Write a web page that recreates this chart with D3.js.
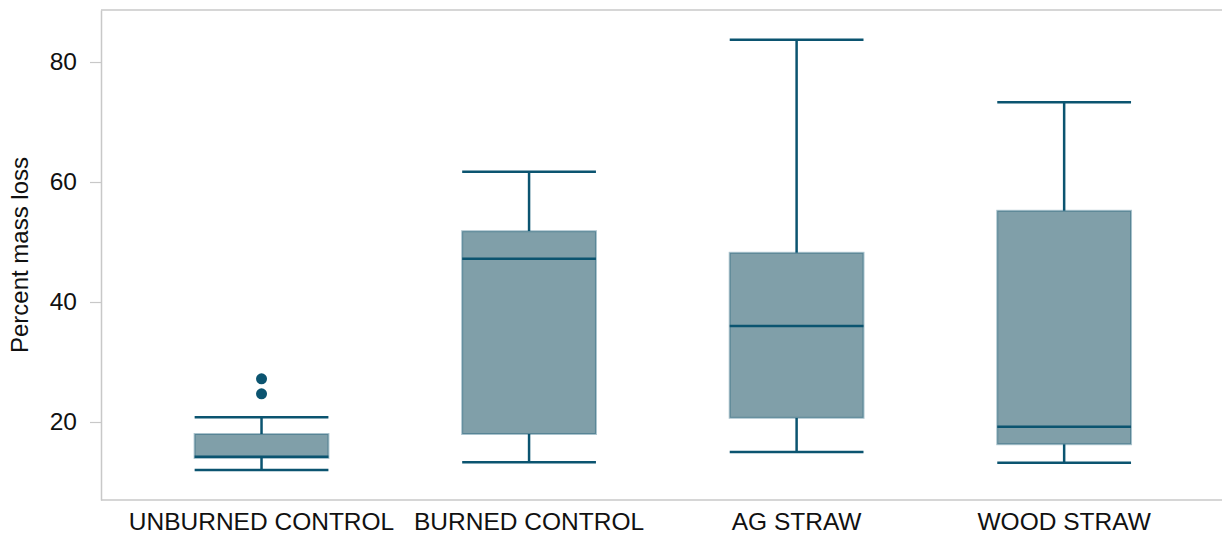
<html>
<head>
    <script src="https://cdn.jsdelivr.net/npm/d3@7"></script>
    <style>
        body { margin: 0; background: #fff; }
        text { font-family: "Liberation Sans", Arial, sans-serif; }
    </style>
</head>
<body>
    <svg id="chart" width="1222" height="535"></svg>
    <script>
        // box stats
        var categories = ["UNBURNED CONTROL", "BURNED CONTROL", "AG STRAW", "WOOD STRAW"];
        var lowWhisker = [12.0, 13.3, 15.0, 13.2];
        var q1 = [14.0, 18.0, 20.7, 16.3];
        var medians = [14.2, 47.2, 36.0, 19.2];
        var q3 = [18.0, 51.8, 48.2, 55.2];
        var highWhisker = [20.8, 61.7, 83.7, 73.3];
        var outliers = [[27.2, 24.7], [], [], []];
        var yTicks = [20, 40, 60, 80];

        var dark = "#0b5470";
        var fill = "#809fa9";

        var plotL = 101, plotR = 1222, plotT = 10, plotB = 500;
        var svg = d3.select("#chart");

        var x = d3.scaleLinear().domain([-0.6, 3.59]).range([plotL, plotR]);
        var y = d3.scaleLinear().domain([7, 88.67]).range([plotB, plotT]);
        var boxW = x(0.25) - x(0);

        // frame
        svg.append("line").attr("x1", plotL).attr("x2", plotR).attr("y1", plotT).attr("y2", plotT)
            .attr("stroke", "#c8c8c8").attr("stroke-width", 1.5);
        svg.append("line").attr("x1", plotL).attr("x2", plotR).attr("y1", plotB).attr("y2", plotB)
            .attr("stroke", "#c8c8c8").attr("stroke-width", 1.5);

        var yAxis = svg.append("g")
            .attr("transform", "translate(" + plotL + ",0)")
            .call(d3.axisLeft(y).tickValues(yTicks).tickSize(11).tickPadding(13).tickSizeOuter(0));
        yAxis.select(".domain").attr("stroke", "#c8c8c8").attr("stroke-width", 1.5);
        yAxis.selectAll(".tick line").attr("stroke", "#c8c8c8").attr("stroke-width", 1.2);
        yAxis.selectAll(".tick text").attr("font-size", 24.5).attr("fill", "#111")
            .attr("font-family", "'Liberation Sans', Arial, sans-serif");

        svg.append("text")
            .attr("transform", "translate(28," + ((plotT + plotB) / 2) + ") rotate(-90)")
            .attr("text-anchor", "middle")
            .attr("font-size", 24)
            .attr("fill", "#111")
            .text("Percent mass loss");

        svg.selectAll(".xlab").data(categories).enter().append("text")
            .attr("class", "xlab")
            .attr("x", (d, i) => x(i))
            .attr("y", 530)
            .attr("text-anchor", "middle")
            .attr("font-size", 24.5)
            .attr("fill", "#111")
            .text(d => d);

        var g = svg.selectAll(".box").data(categories).enter().append("g").attr("class", "box");

        // whisker stems
        g.append("line")
            .attr("x1", (d, i) => x(i)).attr("x2", (d, i) => x(i))
            .attr("y1", (d, i) => y(q3[i])).attr("y2", (d, i) => y(highWhisker[i]))
            .attr("stroke", dark).attr("stroke-width", 2.5);
        g.append("line")
            .attr("x1", (d, i) => x(i)).attr("x2", (d, i) => x(i))
            .attr("y1", (d, i) => y(q1[i])).attr("y2", (d, i) => y(lowWhisker[i]))
            .attr("stroke", dark).attr("stroke-width", 2.5);

        // box
        g.append("rect")
            .attr("x", (d, i) => x(i) - boxW)
            .attr("width", boxW * 2)
            .attr("y", (d, i) => y(q3[i]))
            .attr("height", (d, i) => y(q1[i]) - y(q3[i]))
            .attr("fill", fill)
            .attr("stroke", dark).attr("stroke-opacity", 0.35).attr("stroke-width", 2);

        // caps and median
        [lowWhisker, highWhisker, medians].forEach(function (arr) {
            g.append("line")
                .attr("x1", (d, i) => x(i) - boxW).attr("x2", (d, i) => x(i) + boxW)
                .attr("y1", (d, i) => y(arr[i])).attr("y2", (d, i) => y(arr[i]))
                .attr("stroke", dark).attr("stroke-width", 2.5);
        });

        // outliers
        g.each(function (d, i) {
            d3.select(this).selectAll("circle").data(outliers[i]).enter().append("circle")
                .attr("cx", x(i)).attr("cy", v => y(v)).attr("r", 5.5).attr("fill", dark);
        });
    </script>
</body>
</html>
